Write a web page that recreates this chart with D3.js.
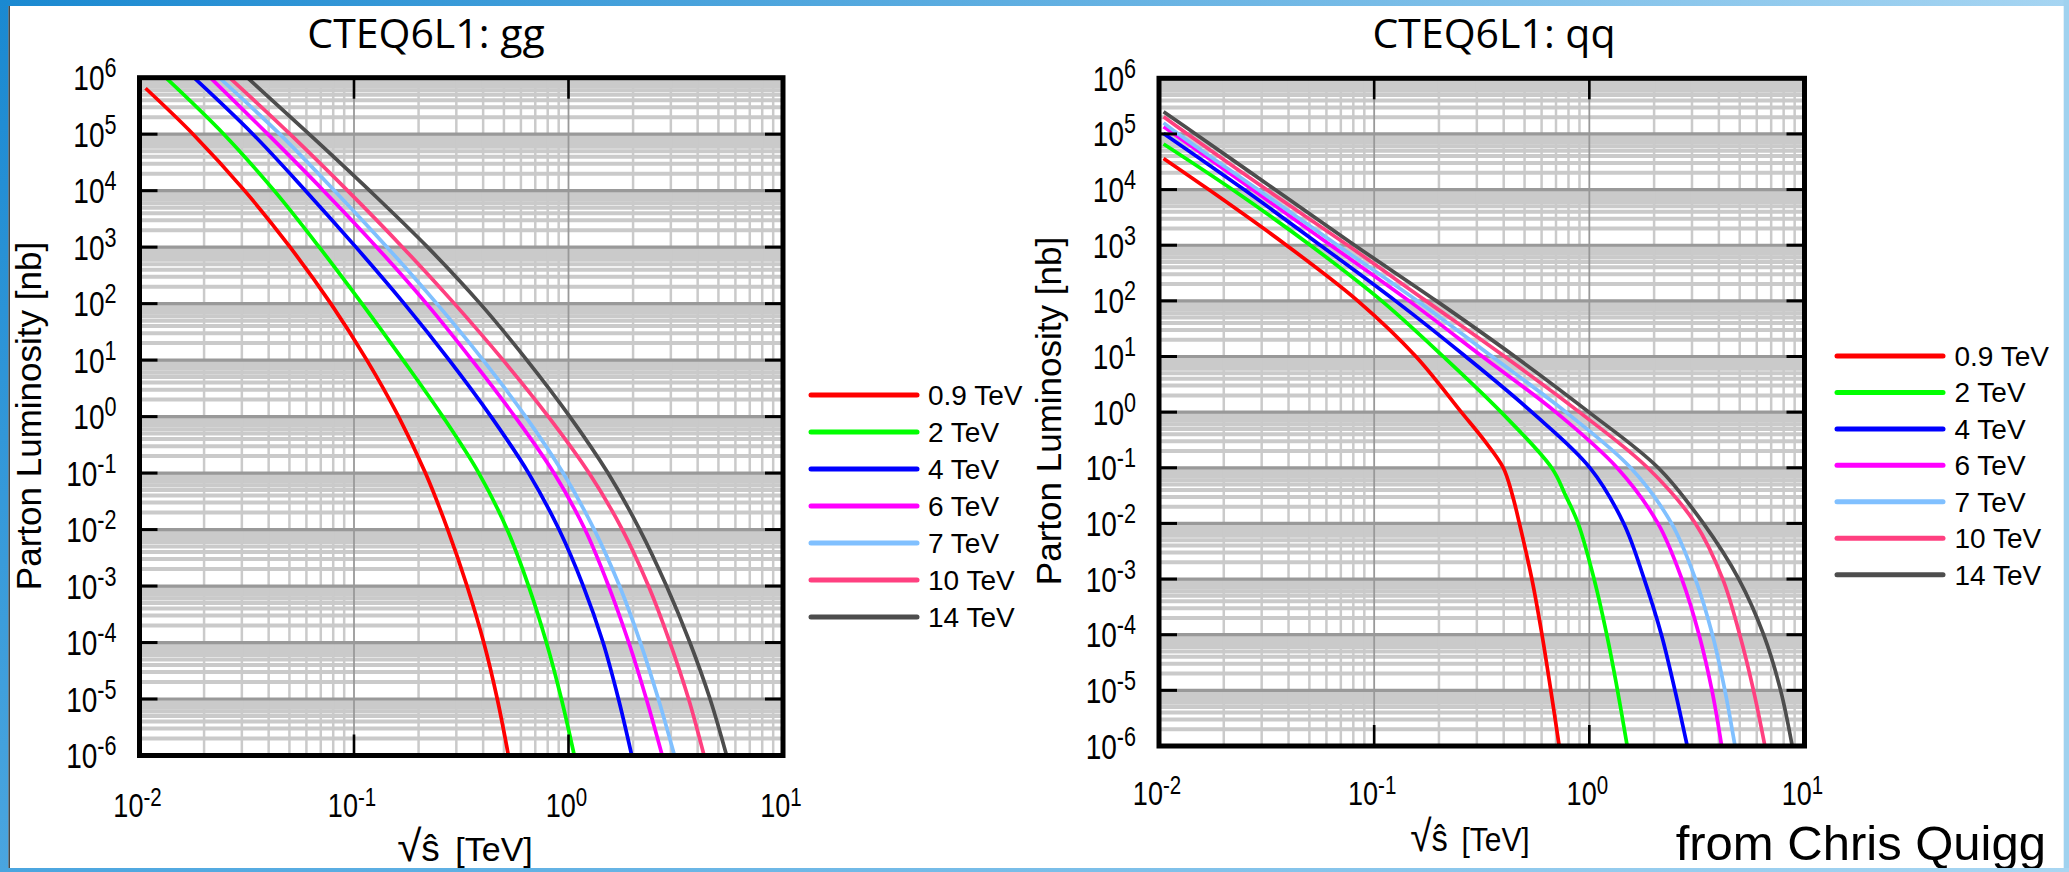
<!DOCTYPE html>
<html><head><meta charset="utf-8">
<script src="https://cdn.jsdelivr.net/npm/d3@7"></script>
<style>html,body{margin:0;padding:0;background:#fff;} svg{display:block;}</style>
</head><body>
<svg id="c" width="2069" height="872"></svg>
<script>
// ---------------- data ----------------
const energies = ["0.9 TeV", "2 TeV", "4 TeV", "6 TeV", "7 TeV", "10 TeV", "14 TeV"];
const curveColors = ["#ff0000", "#00ff00", "#0000ff", "#ff00ff", "#80c0ff", "#ff4080", "#4d4d4d"];
const xTickValues = [1e-2, 1e-1, 1, 10];
const xTickExps = ["-2", "-1", "0", "1"];
const yTickValues = [1e6, 1e5, 1e4, 1e3, 1e2, 1e1, 1, 1e-1, 1e-2, 1e-3, 1e-4, 1e-5, 1e-6];
const yTickExps = ["6", "5", "4", "3", "2", "1", "0", "-1", "-2", "-3", "-4", "-5", "-6"];

// gg parton luminosity [nb] vs sqrt(s-hat) [TeV]
const gg09 = [[0.01067,6.5e5],[0.01778,1e5],[0.0309,1e4],[0.05035,1e3],[0.07798,1e2],[0.1148,1e1],[0.1614,1],[0.2153,1e-1],[0.2735,1e-2],[0.3365,1e-3],[0.4027,1e-4],[0.4656,1e-5],[0.5248,1e-6]];
const gg2  = [[0.01327,1e6],[0.02472,1e5],[0.04246,1e4],[0.06887,1e3],[0.1089,1e2],[0.1694,1e1],[0.2594,1],[0.3819,1e-1],[0.5176,1e-2],[0.6516,1e-3],[0.7889,1e-4],[0.9268,1e-5],[1.064,1e-6]];
const gg4  = [[0.01795,1e6],[0.03381,1e5],[0.05943,1e4],[0.1021,1e3],[0.1714,1e2],[0.278,1e1],[0.4355,1],[0.6516,1e-1],[0.9036,1e-2],[1.172,1e-3],[1.449,1e-4],[1.71,1e-5],[1.972,1e-6]];
const gg6  = [[0.02138,1e6],[0.03963,1e5],[0.07211,1e4],[0.1276,1e3],[0.2178,1e2],[0.3548,1e1],[0.5623,1],[0.8551,1e-1],[1.194,1e-2],[1.538,1e-3],[1.91,1e-4],[2.307,1e-5],[2.735,1e-6]];
const gg7  = [[0.02355,1e6],[0.04508,1e5],[0.0811,1e4],[0.1426,1e3],[0.2432,1e2],[0.3999,1e1],[0.631,1],[0.9441,1e-1],[1.318,1e-2],[1.73,1e-3],[2.163,1e-4],[2.624,1e-5],[3.119,1e-6]];
const gg10 = [[0.0263,1e6],[0.05035,1e5],[0.09333,1e4],[0.1683,1e3],[0.2938,1e2],[0.4955,1e1],[0.8054,1],[1.247,1e-1],[1.782,1e-2],[2.36,1e-3],[2.972,1e-4],[3.631,1e-5],[4.285,1e-6]];
const gg14 = [[0.03184,1e6],[0.0618,1e5],[0.1183,1e4],[0.2203,1e3],[0.3873,1e2],[0.6397,1e1],[1.014,1],[1.528,1e-1],[2.148,1e-2],[2.864,1e-3],[3.681,1e-4],[4.571,1e-5],[5.458,1e-6]];

// qq parton luminosity [nb] vs sqrt(s-hat) [TeV]
const qq09 = [[0.0105,3.63e4],[0.01702,1e4],[0.0391,1e3],[0.0839,1e2],[0.1563,1e1],[0.2541,1],[0.3236,0.3162],[0.3981,1e-1],[0.4395,0.03162],[0.4732,1e-2],[0.5408,1e-3],[0.6026,1e-4],[0.6622,1e-5],[0.7244,1e-6]];
const qq2  = [[0.0105,6.6e4],[0.02193,1e4],[0.0505,1e3],[0.1084,1e2],[0.2094,1e1],[0.389,1],[0.668,1e-1],[0.7762,0.03162],[0.887,1e-2],[1.052,1e-3],[1.205,1e-4],[1.352,1e-5],[1.4997,1e-6]];
const qq4  = [[0.0105,1.02e5],[0.02483,1e4],[0.0562,1e3],[0.1256,1e2],[0.2661,1e1],[0.5408,1],[1.007,1e-1],[1.445,1e-2],[1.799,1e-3],[2.163,1e-4],[2.5,1e-5],[2.851,1e-6]];
const qq6  = [[0.0105,1.35e5],[0.01175,1e5],[0.0272,1e4],[0.0628,1e3],[0.1452,1e2],[0.3184,1e1],[0.6982,1],[1.346,1e-1],[2.084,1e-2],[2.692,1e-3],[3.236,1e-4],[3.715,1e-5],[4.121,1e-6]];
const qq7  = [[0.0105,1.58e5],[0.0123,1e5],[0.0288,1e4],[0.0676,1e3],[0.1585,1e2],[0.3532,1e1],[0.778,1],[1.556,1e-1],[2.41,1e-2],[3.112,1e-3],[3.733,1e-4],[4.266,1e-5],[4.753,1e-6]];
const qq10 = [[0.0105,2.04e5],[0.01355,1e5],[0.0316,1e4],[0.0753,1e3],[0.1742,1e2],[0.4036,1e1],[0.899,1],[1.866,1e-1],[3.112,1e-2],[4.169,1e-3],[5.0,1e-4],[5.794,1e-5],[6.546,1e-6]];
const qq14 = [[0.0105,2.51e5],[0.01479,1e5],[0.0346,1e4],[0.0811,1e3],[0.1945,1e2],[0.4508,1e1],[0.9954,1],[2.09,1e-1],[3.39,1e-2],[4.95,1e-3],[6.457,1e-4],[7.745,1e-5],[8.77,1e-6]];

const ggCurves = [gg09, gg2, gg4, gg6, gg7, gg10, gg14];
const qqCurves = [qq09, qq2, qq4, qq6, qq7, qq10, qq14];

// ---------------- drawing ----------------
const svg = d3.select("#c");
const FONT = "'Liberation Sans', Arial, Helvetica, sans-serif";
const defs = svg.append("defs");

const gTop = defs.append("linearGradient").attr("id","gTop");
gTop.append("stop").attr("offset","0").attr("stop-color","#1a89d1");
gTop.append("stop").attr("offset","1").attr("stop-color","#a6d5f2");
const gLeft = defs.append("linearGradient").attr("id","gLeft").attr("x1",0).attr("y1",0).attr("x2",0).attr("y2",1);
gLeft.append("stop").attr("offset","0").attr("stop-color","#1a89d1");
gLeft.append("stop").attr("offset","1").attr("stop-color","#4aa5df");
const gBot = defs.append("linearGradient").attr("id","gBot");
gBot.append("stop").attr("offset","0").attr("stop-color","#4aa5df");
gBot.append("stop").attr("offset","1").attr("stop-color","#a8d6f2");

svg.append("rect").attr("x",0).attr("y",0).attr("width",2069).attr("height",872).attr("fill","#fff");

const panels = [
  {id:"gg", curves: ggCurves, x0:139.5, x1:783, y0:77.7, y1:755.5, title:"CTEQ6L1: gg", titleX:426, titleY:48,
   yTitleX:41, yTitleY:416, xTitleX:465, xTitleY:861, xTitleScale:1, xLabY:61,
   legX0:811, legX1:917, legTextX:928, legY0:395, legStep:37},
  {id:"qq", curves: qqCurves, x0:1159, x1:1804.5, y0:78.3, y1:746, title:"CTEQ6L1: qq", titleX:1494, titleY:47.5,
   yTitleX:1061, yTitleY:411, xTitleX:1470, xTitleY:851, xTitleScale:0.88, xLabY:59,
   legX0:1837, legX1:1943, legTextX:1954.5, legY0:356, legStep:36.45}
];

panels.forEach(p => {
  const x = d3.scaleLog().domain([1e-2, 10]).range([p.x0, p.x1]);
  const y = d3.scaleLog().domain([1e-6, 1e6]).range([p.y1, p.y0]);
  const g = svg.append("g");

  defs.append("clipPath").attr("id","clip-"+p.id).append("rect")
    .attr("x",p.x0).attr("y",p.y0).attr("width",p.x1-p.x0).attr("height",p.y1-p.y0);
  const inner = g.append("g").attr("clip-path","url(#clip-"+p.id+")");

  const isMinor = v => { const m = v / Math.pow(10, Math.floor(Math.log10(v)+1e-9)); return Math.abs(m-1) > 1e-6; };
  const minorY = y.ticks(200).filter(isMinor);
  const minorX = x.ticks(50).filter(isMinor);

  inner.selectAll("line.hm").data(minorY).join("line").attr("class","hm")
    .attr("x1",p.x0).attr("x2",p.x1).attr("y1",d=>y(d)).attr("y2",d=>y(d))
    .attr("stroke","#cacaca").attr("stroke-width",4);
  inner.selectAll("line.vm").data(minorX).join("line").attr("class","vm")
    .attr("y1",p.y0).attr("y2",p.y1).attr("x1",d=>x(d)).attr("x2",d=>x(d))
    .attr("stroke","#cacaca").attr("stroke-width",2.5);
  inner.selectAll("line.hM").data(yTickValues.slice(1,-1)).join("line").attr("class","hM")
    .attr("x1",p.x0).attr("x2",p.x1).attr("y1",d=>y(d)).attr("y2",d=>y(d))
    .attr("stroke","#999999").attr("stroke-width",3.2);
  inner.selectAll("line.vM").data(xTickValues.slice(1,-1)).join("line").attr("class","vM")
    .attr("y1",p.y0).attr("y2",p.y1).attr("x1",d=>x(d)).attr("x2",d=>x(d))
    .attr("stroke","#999999").attr("stroke-width",1.8);

  const line = d3.line().x(d=>x(d[0])).y(d=>y(d[1])).curve(d3.curveCatmullRom.alpha(0.5));
  inner.selectAll("path.curve").data(p.curves).join("path").attr("class","curve")
    .attr("d", line).attr("fill","none")
    .attr("stroke",(d,i)=>curveColors[i]).attr("stroke-width",3.7)
    .attr("stroke-linejoin","round");

  yTickValues.slice(1,-1).forEach(v => {
    g.append("line").attr("x1",p.x0).attr("x2",p.x0+18).attr("y1",y(v)).attr("y2",y(v)).attr("stroke","#000").attr("stroke-width",3);
    g.append("line").attr("x1",p.x1-18).attr("x2",p.x1).attr("y1",y(v)).attr("y2",y(v)).attr("stroke","#000").attr("stroke-width",3);
  });
  xTickValues.slice(1,-1).forEach(v => {
    g.append("line").attr("x1",x(v)).attr("x2",x(v)).attr("y1",p.y0).attr("y2",p.y0+21).attr("stroke","#000").attr("stroke-width",2.6);
    g.append("line").attr("x1",x(v)).attr("x2",x(v)).attr("y1",p.y1-21).attr("y2",p.y1).attr("stroke","#000").attr("stroke-width",2.6);
  });

  g.append("rect").attr("x",p.x0).attr("y",p.y0).attr("width",p.x1-p.x0).attr("height",p.y1-p.y0)
    .attr("fill","none").attr("stroke","#000").attr("stroke-width",5);

  yTickValues.forEach((v,i) => {
    const t = g.append("text")
      .attr("transform",`translate(${p.x0-23},${y(v)+12.5}) scale(0.8,1)`)
      .attr("text-anchor","end").attr("font-family",FONT).attr("font-size",35).attr("fill","#000");
    t.append("tspan").text("10");
    t.append("tspan").attr("dy",-13).attr("font-size",27).text(yTickExps[i]);
  });
  xTickValues.forEach((v,i) => {
    const t = g.append("text")
      .attr("transform",`translate(${x(v)-2},${p.y1+p.xLabY}) scale(0.82,1)`)
      .attr("text-anchor","middle").attr("font-family",FONT).attr("font-size",33).attr("fill","#000");
    t.append("tspan").text("10");
    t.append("tspan").attr("dy",-11).attr("font-size",25).text(xTickExps[i]);
  });

  g.append("text").attr("x",p.titleX).attr("y",p.titleY).attr("text-anchor","middle")
    .attr("font-family","'Open Sans', 'DejaVu Sans', sans-serif").attr("font-size",41).attr("fill","#000").text(p.title);
  g.append("text").attr("transform",`translate(${p.yTitleX},${p.yTitleY}) rotate(-90)`)
    .attr("text-anchor","middle").attr("font-family",FONT).attr("font-size",35).attr("fill","#000")
    .text("Parton Luminosity [nb]");
  const xt = g.append("text").attr("transform",`translate(${p.xTitleX},${p.xTitleY}) scale(${p.xTitleScale},1)`)
    .attr("text-anchor","middle").attr("font-family",FONT).attr("font-size",34).attr("fill","#000");
  xt.append("tspan").attr("font-size",44).text("\u221A");
  xt.append("tspan").attr("font-size",37).text("\u015D");
  xt.append("tspan").attr("dx",6).text(" [TeV]");

  energies.forEach((name,i) => {
    const ly = p.legY0 + i*p.legStep;
    g.append("line").attr("x1",p.legX0).attr("x2",p.legX1).attr("y1",ly).attr("y2",ly)
      .attr("stroke",curveColors[i]).attr("stroke-width",5).attr("stroke-linecap","round");
    g.append("text").attr("x",p.legTextX).attr("y",ly+10).attr("font-family",FONT).attr("font-size",28).attr("fill","#000").text(name);
  });
});

svg.append("text").attr("x",2046).attr("y",860).attr("text-anchor","end")
  .attr("font-family",FONT).attr("font-size",49).attr("fill","#000").text("from Chris Quigg");

svg.append("rect").attr("x",0).attr("y",0).attr("width",2069).attr("height",6).attr("fill","url(#gTop)");
svg.append("rect").attr("x",0).attr("y",0).attr("width",8.5).attr("height",872).attr("fill","url(#gLeft)");
svg.append("line").attr("x1",9.2).attr("x2",9.2).attr("y1",6).attr("y2",868).attr("stroke","#333").attr("stroke-width",1.4);
svg.append("rect").attr("x",2063.7).attr("y",0).attr("width",6).attr("height",872).attr("fill","#a0d2ef");
svg.append("rect").attr("x",0).attr("y",868).attr("width",2069).attr("height",4).attr("fill","url(#gBot)");
</script>
</body></html>
